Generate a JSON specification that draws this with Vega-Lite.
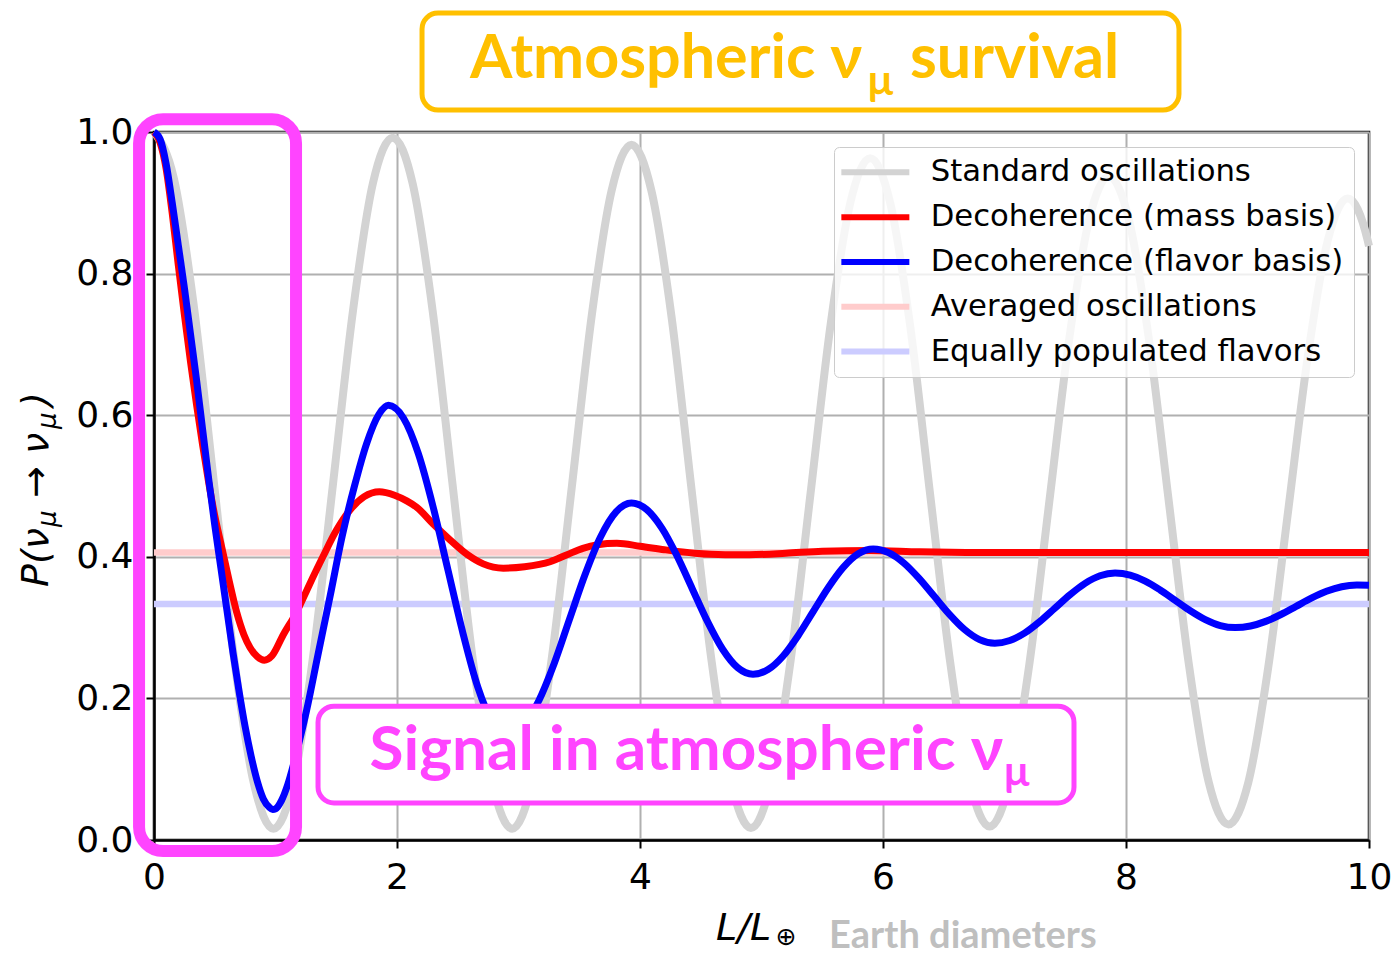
{
  "$schema": "https://vega.github.io/schema/vega-lite/v6.json",
  "width": 1215,
  "height": 708,
  "autosize": {"type": "none"},
  "padding": {"left": 154, "top": 132, "right": 29, "bottom": 115},
  "background": "white",
  "datasets": {
    "curves": [
      {"s": "Averaged oscillations", "x": 0, "p": 0.406},
      {"s": "Averaged oscillations", "x": 10, "p": 0.406},
      {"s": "Equally populated flavors", "x": 0, "p": 0.3333},
      {"s": "Equally populated flavors", "x": 10, "p": 0.3333},
      {"s": "Standard oscillations", "x": 0, "p": 1.0},
      {"s": "Standard oscillations", "x": 0.164, "p": 0.934},
      {"s": "Standard oscillations", "x": 0.328, "p": 0.754},
      {"s": "Standard oscillations", "x": 0.491, "p": 0.508},
      {"s": "Standard oscillations", "x": 0.655, "p": 0.262},
      {"s": "Standard oscillations", "x": 0.819, "p": 0.082},
      {"s": "Standard oscillations", "x": 0.983, "p": 0.016},
      {"s": "Standard oscillations", "x": 1.146, "p": 0.081},
      {"s": "Standard oscillations", "x": 1.31, "p": 0.26},
      {"s": "Standard oscillations", "x": 1.474, "p": 0.504},
      {"s": "Standard oscillations", "x": 1.638, "p": 0.748},
      {"s": "Standard oscillations", "x": 1.801, "p": 0.927},
      {"s": "Standard oscillations", "x": 1.965, "p": 0.992},
      {"s": "Standard oscillations", "x": 2.129, "p": 0.927},
      {"s": "Standard oscillations", "x": 2.293, "p": 0.748},
      {"s": "Standard oscillations", "x": 2.456, "p": 0.504},
      {"s": "Standard oscillations", "x": 2.62, "p": 0.26},
      {"s": "Standard oscillations", "x": 2.784, "p": 0.081},
      {"s": "Standard oscillations", "x": 2.948, "p": 0.016},
      {"s": "Standard oscillations", "x": 3.111, "p": 0.081},
      {"s": "Standard oscillations", "x": 3.275, "p": 0.258},
      {"s": "Standard oscillations", "x": 3.439, "p": 0.499},
      {"s": "Standard oscillations", "x": 3.603, "p": 0.741},
      {"s": "Standard oscillations", "x": 3.766, "p": 0.917},
      {"s": "Standard oscillations", "x": 3.93, "p": 0.982},
      {"s": "Standard oscillations", "x": 4.094, "p": 0.917},
      {"s": "Standard oscillations", "x": 4.258, "p": 0.741},
      {"s": "Standard oscillations", "x": 4.421, "p": 0.5},
      {"s": "Standard oscillations", "x": 4.585, "p": 0.258},
      {"s": "Standard oscillations", "x": 4.749, "p": 0.082},
      {"s": "Standard oscillations", "x": 4.913, "p": 0.017},
      {"s": "Standard oscillations", "x": 5.076, "p": 0.08},
      {"s": "Standard oscillations", "x": 5.24, "p": 0.254},
      {"s": "Standard oscillations", "x": 5.404, "p": 0.49},
      {"s": "Standard oscillations", "x": 5.568, "p": 0.727},
      {"s": "Standard oscillations", "x": 5.731, "p": 0.9},
      {"s": "Standard oscillations", "x": 5.895, "p": 0.963},
      {"s": "Standard oscillations", "x": 6.059, "p": 0.9},
      {"s": "Standard oscillations", "x": 6.223, "p": 0.727},
      {"s": "Standard oscillations", "x": 6.386, "p": 0.491},
      {"s": "Standard oscillations", "x": 6.55, "p": 0.255},
      {"s": "Standard oscillations", "x": 6.714, "p": 0.082},
      {"s": "Standard oscillations", "x": 6.878, "p": 0.019},
      {"s": "Standard oscillations", "x": 7.041, "p": 0.081},
      {"s": "Standard oscillations", "x": 7.205, "p": 0.249},
      {"s": "Standard oscillations", "x": 7.369, "p": 0.478},
      {"s": "Standard oscillations", "x": 7.533, "p": 0.708},
      {"s": "Standard oscillations", "x": 7.696, "p": 0.876},
      {"s": "Standard oscillations", "x": 7.86, "p": 0.937},
      {"s": "Standard oscillations", "x": 8.024, "p": 0.876},
      {"s": "Standard oscillations", "x": 8.188, "p": 0.708},
      {"s": "Standard oscillations", "x": 8.351, "p": 0.48},
      {"s": "Standard oscillations", "x": 8.515, "p": 0.251},
      {"s": "Standard oscillations", "x": 8.679, "p": 0.083},
      {"s": "Standard oscillations", "x": 8.843, "p": 0.022},
      {"s": "Standard oscillations", "x": 9.006, "p": 0.081},
      {"s": "Standard oscillations", "x": 9.17, "p": 0.243},
      {"s": "Standard oscillations", "x": 9.334, "p": 0.464},
      {"s": "Standard oscillations", "x": 9.498, "p": 0.685},
      {"s": "Standard oscillations", "x": 9.661, "p": 0.847},
      {"s": "Standard oscillations", "x": 9.825, "p": 0.906},
      {"s": "Standard oscillations", "x": 9.989, "p": 0.847},
      {"s": "Standard oscillations", "x": 10, "p": 0.839},
      {"s": "Decoherence (mass basis)", "x": 0, "p": 1.0},
      {"s": "Decoherence (mass basis)", "x": 0.05, "p": 0.985},
      {"s": "Decoherence (mass basis)", "x": 0.1, "p": 0.948},
      {"s": "Decoherence (mass basis)", "x": 0.15, "p": 0.885},
      {"s": "Decoherence (mass basis)", "x": 0.2, "p": 0.812},
      {"s": "Decoherence (mass basis)", "x": 0.25, "p": 0.742},
      {"s": "Decoherence (mass basis)", "x": 0.3, "p": 0.676},
      {"s": "Decoherence (mass basis)", "x": 0.35, "p": 0.615},
      {"s": "Decoherence (mass basis)", "x": 0.4, "p": 0.558},
      {"s": "Decoherence (mass basis)", "x": 0.45, "p": 0.505},
      {"s": "Decoherence (mass basis)", "x": 0.5, "p": 0.458},
      {"s": "Decoherence (mass basis)", "x": 0.557, "p": 0.414},
      {"s": "Decoherence (mass basis)", "x": 0.62, "p": 0.365},
      {"s": "Decoherence (mass basis)", "x": 0.68, "p": 0.322},
      {"s": "Decoherence (mass basis)", "x": 0.74, "p": 0.29},
      {"s": "Decoherence (mass basis)", "x": 0.79, "p": 0.272},
      {"s": "Decoherence (mass basis)", "x": 0.85, "p": 0.259},
      {"s": "Decoherence (mass basis)", "x": 0.908, "p": 0.254},
      {"s": "Decoherence (mass basis)", "x": 0.97, "p": 0.26},
      {"s": "Decoherence (mass basis)", "x": 1.064, "p": 0.29},
      {"s": "Decoherence (mass basis)", "x": 1.174, "p": 0.322},
      {"s": "Decoherence (mass basis)", "x": 1.28, "p": 0.361},
      {"s": "Decoherence (mass basis)", "x": 1.39, "p": 0.4},
      {"s": "Decoherence (mass basis)", "x": 1.5, "p": 0.437},
      {"s": "Decoherence (mass basis)", "x": 1.613, "p": 0.466},
      {"s": "Decoherence (mass basis)", "x": 1.73, "p": 0.485},
      {"s": "Decoherence (mass basis)", "x": 1.855, "p": 0.492},
      {"s": "Decoherence (mass basis)", "x": 1.98, "p": 0.487},
      {"s": "Decoherence (mass basis)", "x": 2.08, "p": 0.479},
      {"s": "Decoherence (mass basis)", "x": 2.162, "p": 0.47},
      {"s": "Decoherence (mass basis)", "x": 2.3, "p": 0.446},
      {"s": "Decoherence (mass basis)", "x": 2.436, "p": 0.424},
      {"s": "Decoherence (mass basis)", "x": 2.58, "p": 0.403},
      {"s": "Decoherence (mass basis)", "x": 2.71, "p": 0.39},
      {"s": "Decoherence (mass basis)", "x": 2.875, "p": 0.384},
      {"s": "Decoherence (mass basis)", "x": 3.05, "p": 0.386},
      {"s": "Decoherence (mass basis)", "x": 3.26, "p": 0.393},
      {"s": "Decoherence (mass basis)", "x": 3.4, "p": 0.403},
      {"s": "Decoherence (mass basis)", "x": 3.53, "p": 0.412},
      {"s": "Decoherence (mass basis)", "x": 3.65, "p": 0.417},
      {"s": "Decoherence (mass basis)", "x": 3.81, "p": 0.419},
      {"s": "Decoherence (mass basis)", "x": 4.0, "p": 0.415},
      {"s": "Decoherence (mass basis)", "x": 4.2, "p": 0.41},
      {"s": "Decoherence (mass basis)", "x": 4.45, "p": 0.405},
      {"s": "Decoherence (mass basis)", "x": 4.7, "p": 0.403},
      {"s": "Decoherence (mass basis)", "x": 4.9, "p": 0.403},
      {"s": "Decoherence (mass basis)", "x": 5.2, "p": 0.405},
      {"s": "Decoherence (mass basis)", "x": 5.5, "p": 0.408},
      {"s": "Decoherence (mass basis)", "x": 5.9, "p": 0.409},
      {"s": "Decoherence (mass basis)", "x": 6.3, "p": 0.407},
      {"s": "Decoherence (mass basis)", "x": 6.8, "p": 0.406},
      {"s": "Decoherence (mass basis)", "x": 10, "p": 0.406},
      {"s": "Decoherence (flavor basis)", "x": 0, "p": 1.0},
      {"s": "Decoherence (flavor basis)", "x": 0.05, "p": 0.99},
      {"s": "Decoherence (flavor basis)", "x": 0.1, "p": 0.955},
      {"s": "Decoherence (flavor basis)", "x": 0.15, "p": 0.9},
      {"s": "Decoherence (flavor basis)", "x": 0.2, "p": 0.84},
      {"s": "Decoherence (flavor basis)", "x": 0.25, "p": 0.78},
      {"s": "Decoherence (flavor basis)", "x": 0.3, "p": 0.715},
      {"s": "Decoherence (flavor basis)", "x": 0.35, "p": 0.65},
      {"s": "Decoherence (flavor basis)", "x": 0.4, "p": 0.58},
      {"s": "Decoherence (flavor basis)", "x": 0.45, "p": 0.51},
      {"s": "Decoherence (flavor basis)", "x": 0.5, "p": 0.445},
      {"s": "Decoherence (flavor basis)", "x": 0.55, "p": 0.385},
      {"s": "Decoherence (flavor basis)", "x": 0.6, "p": 0.325},
      {"s": "Decoherence (flavor basis)", "x": 0.65, "p": 0.265},
      {"s": "Decoherence (flavor basis)", "x": 0.7, "p": 0.21},
      {"s": "Decoherence (flavor basis)", "x": 0.75, "p": 0.16},
      {"s": "Decoherence (flavor basis)", "x": 0.8, "p": 0.118},
      {"s": "Decoherence (flavor basis)", "x": 0.85, "p": 0.083},
      {"s": "Decoherence (flavor basis)", "x": 0.9, "p": 0.058},
      {"s": "Decoherence (flavor basis)", "x": 0.95, "p": 0.046},
      {"s": "Decoherence (flavor basis)", "x": 0.977, "p": 0.043},
      {"s": "Decoherence (flavor basis)", "x": 1.0, "p": 0.044},
      {"s": "Decoherence (flavor basis)", "x": 1.05, "p": 0.056},
      {"s": "Decoherence (flavor basis)", "x": 1.1, "p": 0.078},
      {"s": "Decoherence (flavor basis)", "x": 1.15, "p": 0.108},
      {"s": "Decoherence (flavor basis)", "x": 1.2, "p": 0.142},
      {"s": "Decoherence (flavor basis)", "x": 1.257, "p": 0.184},
      {"s": "Decoherence (flavor basis)", "x": 1.35, "p": 0.262},
      {"s": "Decoherence (flavor basis)", "x": 1.45, "p": 0.345},
      {"s": "Decoherence (flavor basis)", "x": 1.55, "p": 0.43},
      {"s": "Decoherence (flavor basis)", "x": 1.65, "p": 0.5},
      {"s": "Decoherence (flavor basis)", "x": 1.75, "p": 0.56},
      {"s": "Decoherence (flavor basis)", "x": 1.85, "p": 0.601},
      {"s": "Decoherence (flavor basis)", "x": 1.93, "p": 0.614},
      {"s": "Decoherence (flavor basis)", "x": 2.053, "p": 0.596},
      {"s": "Decoherence (flavor basis)", "x": 2.175, "p": 0.546},
      {"s": "Decoherence (flavor basis)", "x": 2.298, "p": 0.47},
      {"s": "Decoherence (flavor basis)", "x": 2.42, "p": 0.381},
      {"s": "Decoherence (flavor basis)", "x": 2.543, "p": 0.292},
      {"s": "Decoherence (flavor basis)", "x": 2.665, "p": 0.216},
      {"s": "Decoherence (flavor basis)", "x": 2.788, "p": 0.166},
      {"s": "Decoherence (flavor basis)", "x": 2.91, "p": 0.148},
      {"s": "Decoherence (flavor basis)", "x": 3.038, "p": 0.1605},
      {"s": "Decoherence (flavor basis)", "x": 3.165, "p": 0.196},
      {"s": "Decoherence (flavor basis)", "x": 3.293, "p": 0.249},
      {"s": "Decoherence (flavor basis)", "x": 3.42, "p": 0.312},
      {"s": "Decoherence (flavor basis)", "x": 3.548, "p": 0.375},
      {"s": "Decoherence (flavor basis)", "x": 3.675, "p": 0.428},
      {"s": "Decoherence (flavor basis)", "x": 3.803, "p": 0.4635},
      {"s": "Decoherence (flavor basis)", "x": 3.93, "p": 0.476},
      {"s": "Decoherence (flavor basis)", "x": 4.055, "p": 0.4668},
      {"s": "Decoherence (flavor basis)", "x": 4.18, "p": 0.4406},
      {"s": "Decoherence (flavor basis)", "x": 4.305, "p": 0.4013},
      {"s": "Decoherence (flavor basis)", "x": 4.43, "p": 0.355},
      {"s": "Decoherence (flavor basis)", "x": 4.555, "p": 0.3087},
      {"s": "Decoherence (flavor basis)", "x": 4.68, "p": 0.2694},
      {"s": "Decoherence (flavor basis)", "x": 4.805, "p": 0.2432},
      {"s": "Decoherence (flavor basis)", "x": 4.93, "p": 0.234},
      {"s": "Decoherence (flavor basis)", "x": 5.054, "p": 0.2407},
      {"s": "Decoherence (flavor basis)", "x": 5.178, "p": 0.2599},
      {"s": "Decoherence (flavor basis)", "x": 5.301, "p": 0.2886},
      {"s": "Decoherence (flavor basis)", "x": 5.425, "p": 0.3225},
      {"s": "Decoherence (flavor basis)", "x": 5.549, "p": 0.3564},
      {"s": "Decoherence (flavor basis)", "x": 5.673, "p": 0.3851},
      {"s": "Decoherence (flavor basis)", "x": 5.796, "p": 0.4043},
      {"s": "Decoherence (flavor basis)", "x": 5.92, "p": 0.411},
      {"s": "Decoherence (flavor basis)", "x": 6.045, "p": 0.4059},
      {"s": "Decoherence (flavor basis)", "x": 6.17, "p": 0.3915},
      {"s": "Decoherence (flavor basis)", "x": 6.295, "p": 0.3699},
      {"s": "Decoherence (flavor basis)", "x": 6.42, "p": 0.3445},
      {"s": "Decoherence (flavor basis)", "x": 6.545, "p": 0.3191},
      {"s": "Decoherence (flavor basis)", "x": 6.67, "p": 0.2975},
      {"s": "Decoherence (flavor basis)", "x": 6.795, "p": 0.2831},
      {"s": "Decoherence (flavor basis)", "x": 6.92, "p": 0.278},
      {"s": "Decoherence (flavor basis)", "x": 7.044, "p": 0.2818},
      {"s": "Decoherence (flavor basis)", "x": 7.168, "p": 0.2925},
      {"s": "Decoherence (flavor basis)", "x": 7.291, "p": 0.3086},
      {"s": "Decoherence (flavor basis)", "x": 7.415, "p": 0.3275},
      {"s": "Decoherence (flavor basis)", "x": 7.539, "p": 0.3464},
      {"s": "Decoherence (flavor basis)", "x": 7.663, "p": 0.3625},
      {"s": "Decoherence (flavor basis)", "x": 7.786, "p": 0.3732},
      {"s": "Decoherence (flavor basis)", "x": 7.91, "p": 0.377},
      {"s": "Decoherence (flavor basis)", "x": 8.034, "p": 0.3741},
      {"s": "Decoherence (flavor basis)", "x": 8.158, "p": 0.3657},
      {"s": "Decoherence (flavor basis)", "x": 8.281, "p": 0.3532},
      {"s": "Decoherence (flavor basis)", "x": 8.405, "p": 0.3385},
      {"s": "Decoherence (flavor basis)", "x": 8.529, "p": 0.3238},
      {"s": "Decoherence (flavor basis)", "x": 8.653, "p": 0.3113},
      {"s": "Decoherence (flavor basis)", "x": 8.776, "p": 0.3029},
      {"s": "Decoherence (flavor basis)", "x": 8.9, "p": 0.3},
      {"s": "Decoherence (flavor basis)", "x": 9.025, "p": 0.3023},
      {"s": "Decoherence (flavor basis)", "x": 9.15, "p": 0.3088},
      {"s": "Decoherence (flavor basis)", "x": 9.275, "p": 0.3185},
      {"s": "Decoherence (flavor basis)", "x": 9.4, "p": 0.33},
      {"s": "Decoherence (flavor basis)", "x": 9.525, "p": 0.3415},
      {"s": "Decoherence (flavor basis)", "x": 9.65, "p": 0.3512},
      {"s": "Decoherence (flavor basis)", "x": 9.775, "p": 0.3577},
      {"s": "Decoherence (flavor basis)", "x": 9.9, "p": 0.36},
      {"s": "Decoherence (flavor basis)", "x": 10, "p": 0.3597}
    ],
    "boxes": [
      {"g": "big", "x": -0.123, "x2": 1.169, "y": 1.018, "y2": -0.0155},
      {"g": "signal", "x": 1.35, "x2": 7.572, "y": 0.189, "y2": 0.0523},
      {"g": "title", "x": 2.206, "x2": 8.436, "y": 1.168, "y2": 1.031}
    ],
    "texts": [
      {"g": "gold_r", "t": "Atmospheric ν", "x": 5.827, "y": 1.0763},
      {"g": "gold_l", "t": "survival", "x": 6.222, "y": 1.0763},
      {"g": "gold_sub", "t": "μ", "x": 5.979, "y": 1.052},
      {"g": "mag_r", "t": "Signal in atmospheric ν", "x": 6.988, "y": 0.0989},
      {"g": "mag_sub", "t": "μ", "x": 7.1, "y": 0.076},
      {"g": "xt", "t": "L/L", "x": 4.626, "y": -0.141},
      {"g": "xt_sub", "t": "⊕", "x": 5.115, "y": -0.148},
      {"g": "earth", "t": "Earth diameters", "x": 5.556, "y": -0.1525},
      {"g": "yt", "t": "P(ν", "x": -0.872, "y": 0.3573},
      {"g": "yt", "t": "→", "x": -0.872, "y": 0.483},
      {"g": "yt", "t": "ν", "x": -0.872, "y": 0.5452},
      {"g": "yt", "t": ")", "x": -0.872, "y": 0.6116},
      {"g": "yt_sub", "t": "μ", "x": -0.807, "y": 0.4421},
      {"g": "yt_sub", "t": "μ", "x": -0.807, "y": 0.5805}
    ]
  },
  "layer": [
    {
      "data": {"name": "curves"},
      "transform": [{"filter": "datum.s === 'Averaged oscillations' || datum.s === 'Equally populated flavors'"}],
      "mark": {"type": "line", "strokeWidth": 6.5, "interpolate": "linear"},
      "encoding": {
        "x": {"field": "x", "type": "quantitative", "title": null,
              "scale": {"domain": [0, 10], "nice": false, "zero": false},
              "axis": {"values": [0, 2, 4, 6, 8, 10], "format": "d"}},
        "y": {"field": "p", "type": "quantitative", "title": null,
              "scale": {"domain": [0, 1], "nice": false, "zero": false},
              "axis": {"values": [0, 0.2, 0.4, 0.6, 0.8, 1.0], "format": ".1f"}},
        "color": {"field": "s", "type": "nominal",
                  "scale": {"domain": ["Standard oscillations", "Decoherence (mass basis)", "Decoherence (flavor basis)", "Averaged oscillations", "Equally populated flavors"],
                            "range": ["#d3d3d3", "#ff0000", "#0000ff", "#ffcccc", "#ccccff"]},
                  "legend": {"title": " ", "titleOrient": "left", "titlePadding": 16, "titleFontSize": 30}}
      }
    },
    {
      "data": {"name": "curves"},
      "transform": [{"filter": "datum.s === 'Standard oscillations'"}],
      "mark": {"type": "line", "strokeWidth": 8, "interpolate": "monotone"},
      "encoding": {
        "x": {"field": "x", "type": "quantitative", "title": null},
        "y": {"field": "p", "type": "quantitative", "title": null},
        "color": {"field": "s", "type": "nominal"}
      }
    },
    {
      "data": {"name": "curves"},
      "transform": [{"filter": "datum.s === 'Decoherence (mass basis)'"}],
      "mark": {"type": "line", "strokeWidth": 7, "interpolate": "monotone"},
      "encoding": {
        "x": {"field": "x", "type": "quantitative", "title": null},
        "y": {"field": "p", "type": "quantitative", "title": null},
        "color": {"field": "s", "type": "nominal"}
      }
    },
    {
      "data": {"name": "curves"},
      "transform": [{"filter": "datum.s === 'Decoherence (flavor basis)'"}],
      "mark": {"type": "line", "strokeWidth": 7, "interpolate": "monotone"},
      "encoding": {
        "x": {"field": "x", "type": "quantitative", "title": null},
        "y": {"field": "p", "type": "quantitative", "title": null},
        "color": {"field": "s", "type": "nominal"}
      }
    },
    {
      "data": {"name": "boxes"},
      "transform": [{"filter": "datum.g === 'big'"}],
      "mark": {"type": "rect", "fill": null, "fillOpacity": 0, "stroke": "#ff44ff", "strokeWidth": 12, "cornerRadius": 24, "clip": false},
      "encoding": {
        "x": {"field": "x", "type": "quantitative", "title": null},
        "x2": {"field": "x2"},
        "y": {"field": "y", "type": "quantitative", "title": null},
        "y2": {"field": "y2"}
      }
    },
    {
      "data": {"name": "boxes"},
      "transform": [{"filter": "datum.g === 'signal'"}],
      "mark": {"type": "rect", "fill": "white", "stroke": "#ff44ff", "strokeWidth": 5, "cornerRadius": 16},
      "encoding": {
        "x": {"field": "x", "type": "quantitative", "title": null},
        "x2": {"field": "x2"},
        "y": {"field": "y", "type": "quantitative", "title": null},
        "y2": {"field": "y2"}
      }
    },
    {
      "data": {"name": "boxes"},
      "transform": [{"filter": "datum.g === 'title'"}],
      "mark": {"type": "rect", "fill": "white", "stroke": "#ffc000", "strokeWidth": 5, "cornerRadius": 16},
      "encoding": {
        "x": {"field": "x", "type": "quantitative", "title": null},
        "x2": {"field": "x2"},
        "y": {"field": "y", "type": "quantitative", "title": null},
        "y2": {"field": "y2"}
      }
    },
    {
      "data": {"name": "texts"},
      "transform": [{"filter": "datum.g === 'gold_r'"}],
      "mark": {"type": "text", "font": "Liberation Sans Narrow, Lato, sans-serif", "fontWeight": "bold", "fontSize": 61, "color": "#ffc000", "align": "right", "baseline": "alphabetic"},
      "encoding": {"x": {"field": "x", "type": "quantitative", "title": null}, "y": {"field": "y", "type": "quantitative", "title": null}, "text": {"field": "t"}}
    },
    {
      "data": {"name": "texts"},
      "transform": [{"filter": "datum.g === 'gold_l'"}],
      "mark": {"type": "text", "font": "Liberation Sans Narrow, Lato, sans-serif", "fontWeight": "bold", "fontSize": 61, "color": "#ffc000", "align": "left", "baseline": "alphabetic"},
      "encoding": {"x": {"field": "x", "type": "quantitative", "title": null}, "y": {"field": "y", "type": "quantitative", "title": null}, "text": {"field": "t"}}
    },
    {
      "data": {"name": "texts"},
      "transform": [{"filter": "datum.g === 'gold_sub'"}],
      "mark": {"type": "text", "font": "Liberation Sans Narrow, Lato, sans-serif", "fontWeight": "bold", "fontSize": 42, "color": "#ffc000", "align": "center", "baseline": "alphabetic"},
      "encoding": {"x": {"field": "x", "type": "quantitative", "title": null}, "y": {"field": "y", "type": "quantitative", "title": null}, "text": {"field": "t"}}
    },
    {
      "data": {"name": "texts"},
      "transform": [{"filter": "datum.g === 'mag_r'"}],
      "mark": {"type": "text", "font": "Liberation Sans Narrow, Lato, sans-serif", "fontWeight": "bold", "fontSize": 62, "color": "#ff44ff", "align": "right", "baseline": "alphabetic"},
      "encoding": {"x": {"field": "x", "type": "quantitative", "title": null}, "y": {"field": "y", "type": "quantitative", "title": null}, "text": {"field": "t"}}
    },
    {
      "data": {"name": "texts"},
      "transform": [{"filter": "datum.g === 'mag_sub'"}],
      "mark": {"type": "text", "font": "Liberation Sans Narrow, Lato, sans-serif", "fontWeight": "bold", "fontSize": 42, "color": "#ff44ff", "align": "center", "baseline": "alphabetic"},
      "encoding": {"x": {"field": "x", "type": "quantitative", "title": null}, "y": {"field": "y", "type": "quantitative", "title": null}, "text": {"field": "t"}}
    },
    {
      "data": {"name": "texts"},
      "transform": [{"filter": "datum.g === 'xt'"}],
      "mark": {"type": "text", "font": "DejaVu Sans", "fontStyle": "italic", "fontSize": 38, "color": "black", "align": "left", "baseline": "alphabetic"},
      "encoding": {"x": {"field": "x", "type": "quantitative", "title": null}, "y": {"field": "y", "type": "quantitative", "title": null}, "text": {"field": "t"}}
    },
    {
      "data": {"name": "texts"},
      "transform": [{"filter": "datum.g === 'xt_sub'"}],
      "mark": {"type": "text", "font": "DejaVu Sans", "fontSize": 25, "color": "black", "align": "left", "baseline": "alphabetic"},
      "encoding": {"x": {"field": "x", "type": "quantitative", "title": null}, "y": {"field": "y", "type": "quantitative", "title": null}, "text": {"field": "t"}}
    },
    {
      "data": {"name": "texts"},
      "transform": [{"filter": "datum.g === 'earth'"}],
      "mark": {"type": "text", "font": "Liberation Sans Narrow, Lato, sans-serif", "fontWeight": "bold", "fontSize": 38, "color": "#bfbfbf", "align": "left", "baseline": "alphabetic"},
      "encoding": {"x": {"field": "x", "type": "quantitative", "title": null}, "y": {"field": "y", "type": "quantitative", "title": null}, "text": {"field": "t"}}
    },
    {
      "data": {"name": "texts"},
      "transform": [{"filter": "datum.g === 'yt'"}],
      "mark": {"type": "text", "font": "DejaVu Sans", "fontStyle": "italic", "fontSize": 38, "color": "black", "align": "left", "baseline": "alphabetic", "angle": 270},
      "encoding": {"x": {"field": "x", "type": "quantitative", "title": null}, "y": {"field": "y", "type": "quantitative", "title": null}, "text": {"field": "t"}}
    },
    {
      "data": {"name": "texts"},
      "transform": [{"filter": "datum.g === 'yt_sub'"}],
      "mark": {"type": "text", "font": "DejaVu Sans", "fontStyle": "italic", "fontSize": 26, "color": "black", "align": "left", "baseline": "alphabetic", "angle": 270},
      "encoding": {"x": {"field": "x", "type": "quantitative", "title": null}, "y": {"field": "y", "type": "quantitative", "title": null}, "text": {"field": "t"}}
    }
  ],
  "config": {
    "view": {"stroke": "black", "strokeWidth": 2.5},
    "axis": {
      "labelFont": "DejaVu Sans",
      "labelFontSize": 36,
      "labelColor": "black",
      "domainColor": "black",
      "domainWidth": 2.5,
      "tickColor": "black",
      "tickWidth": 2,
      "tickSize": 8,
      "gridColor": "#b0b0b0",
      "gridWidth": 2,
      "labelFlush": false,
      "labelOverlap": false
    },
    "axisX": {"labelPadding": 12},
    "axisY": {"labelPadding": 13},
    "legend": {
      "orient": "top-right",
      "offset": 15,
      "padding": 10,
      "cornerRadius": 5,
      "strokeColor": "#cccccc",
      "fillColor": "rgba(255,255,255,0.8)",
      "labelFont": "DejaVu Sans",
      "labelFontSize": 30.7,
      "labelColor": "black",
      "labelLimit": 600,
      "symbolType": "M-3.4,0H3.4",
      "symbolSize": 400,
      "symbolStrokeWidth": 6,
      "labelOffset": 40,
      "rowPadding": 12.8
    }
  }
}
